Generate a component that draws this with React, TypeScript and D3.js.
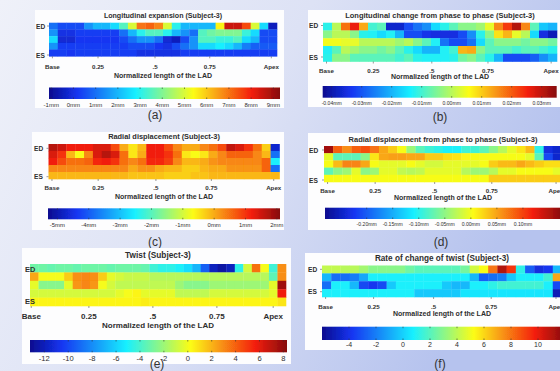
import * as d3 from "d3";
import { useEffect, useRef } from "react";

// x axis of every map: normalized length of the LAD
const lengthLabels = ["Base", "0.25", ".5", "0.75", "Apex"];
const lengthTicks = [0.015, 0.215, 0.465, 0.705, 0.975];
const twistLengthTicks = [0.005, 0.23, 0.48, 0.73, 0.95];
const phaseLabels = ["ED", "ES"];

// (a) Longitudinal expansion, mm (rows ED -> ES)
const expansionMm = [
  [1, 0.5, 0.5, 0.5, 1.5, 2, 2, 2.5, 3.5, 5, 7, 7.2, 6.8, 5, 3, 2, 2, 2, 2, 5.5, 8.5, 8.5, 7.5, 5, 2.5, -0.5],
  [1.5, 0, 0, 0.3, 0.3, 0.3, 0.3, 0.3, 1, 2, 3, 3.5, 3.5, 3, 2, 1.5, 1, 3.5, 3.8, 4, 4, 4, 3.2, 2.5, 0.5, 0.5],
  [2.5, -0.2, -0.2, 0.2, 0.2, 0.2, 0.2, 0.2, 0.5, 1, 1.5, 1.5, 1, -0.2, -0.5, 0.5, 1.5, 3.5, 3.5, 3.2, 3.2, 3.5, 2.5, 2, 0.5, 0.5],
  [1.5, 0.3, 0.3, 0.3, 0.3, 0.3, 0.3, 0.3, 0.3, 0.5, 0.5, 0.5, 0.2, 0, 0.5, 1, 1.5, 2.5, 2.5, 2.8, 2.5, 2, 1.2, 0.8, 0.7, 0.7],
  [0.3, 0.3, 0.2, 0.3, 0.3, 0.3, 0.3, 0.3, 0.3, 0.3, 0, 0, 0, 0, 0, 0.3, 0.3, 0.3, 0.3, 0.3, 0.3, 0.3, 0.3, 0.3, 0.3, 0.3],
];
const expansionTicks = [-1, 0, 1, 2, 3, 4, 5, 6, 7, 8, 9];

// (b) Longitudinal change from phase to phase, mm
const longChangeMm = [
  [-0.012, 0.0, 0.018, 0.026, 0.013, -0.01, -0.008, -0.037, -0.037, -0.031, -0.027, -0.024, -0.016, -0.012, -0.008, -0.004, -0.004, -0.002, 0.004, 0.016, 0.023, 0.031, 0.016, -0.008, -0.018, -0.02],
  [-0.004, 0.0, 0.0, -0.004, -0.012, -0.013, -0.016, -0.013, -0.02, -0.031, -0.031, -0.034, -0.035, -0.035, -0.035, -0.031, -0.024, -0.012, -0.004, 0.008, 0.012, 0.004, 0.0, -0.016, -0.035, -0.039],
  [0.005, 0.005, 0.004, 0.004, 0.0, 0.0, 0.0, 0.0, -0.002, 0.0, -0.004, -0.008, -0.013, -0.027, -0.031, -0.031, -0.027, -0.016, -0.008, -0.004, -0.004, -0.004, -0.006, -0.004, -0.004, -0.006],
  [-0.013, -0.008, 0.0, -0.002, -0.004, -0.004, -0.006, -0.004, -0.008, -0.012, -0.016, -0.02, -0.02, -0.013, -0.01, 0.012, 0.013, -0.004, -0.008, -0.008, -0.008, -0.01, -0.008, -0.008, -0.01, -0.012],
  [-0.012, -0.004, -0.004, -0.008, -0.008, -0.008, -0.008, -0.008, -0.01, -0.008, -0.012, -0.013, -0.013, -0.013, -0.012, -0.006, -0.004, -0.008, -0.012, -0.02, -0.031, -0.031, -0.031, -0.029, -0.024, -0.02],
];
const longChangeTicks = [-0.04, -0.03, -0.02, -0.01, 0, 0.01, 0.02, 0.03];

// (c) Radial displacement, mm
const radialMm = [
  [1.7, 1.5, 1.2, 1.2, 1.2, 1.4, 1.4, 0.8, 0.0, -0.5, -0.1, 1.2, 1.2, 0.8, 0.3, 0.0, 0.0, 0.3, 0.5, 0.8, 1.6, 1.4, 1.0, 0.5, -0.3, -4.7],
  [1.4, 1.0, -0.1, -0.7, 0.3, 1.4, 1.7, 1.4, 0.5, -0.5, 0.0, 1.2, 1.2, 1.0, 0.5, -0.5, -0.7, -0.5, 0.0, 0.3, 0.6, 0.6, 0.6, 0.3, -0.1, -3.8],
  [1.2, 0.8, 0.5, 0.5, 0.6, 1.1, 1.2, 1.0, 0.5, 0.3, 0.5, 1.1, 1.1, 0.9, 0.3, -0.1, -0.1, 0.0, 0.2, 0.3, 0.3, 0.3, 0.3, 0.3, 0.6, -2.5],
  [0.3, 0.3, 0.3, 0.3, 0.3, 0.3, 0.3, 0.3, 0.3, 0.0, 0.2, 0.2, 0.0, -0.1, -0.1, -0.3, -0.3, -0.1, 0.0, 0.0, 0.2, 0.2, 0.2, 0.2, 0.6, -3.8],
  [-0.1, -0.1, -0.1, -0.1, -0.1, -0.1, -0.1, -0.1, -0.1, -0.2, -0.2, -0.2, -0.2, -0.3, -0.3, -0.3, -0.2, -0.2, -0.1, -0.1, -0.1, -0.1, -0.1, -0.1, -0.1, -0.1],
];
const radialTicks = [-5, -4, -3, -2, -1, 0, 1, 2];

// (d) Radial displacement from phase to phase, mm
const radialChangeMm = [
  [0.161, 0.084, 0.061, 0.084, 0.093, 0.075, 0.048, 0.029, 0.002, -0.043, -0.075, -0.089, -0.098, -0.107, -0.107, -0.089, -0.089, -0.075, -0.052, -0.03, -0.007, 0.016, 0.038, -0.098, -0.234, -0.244],
  [-0.007, -0.075, -0.075, -0.075, -0.052, 0.016, 0.048, 0.052, 0.052, 0.048, 0.048, 0.029, 0.029, 0.02, 0.016, 0.007, 0.002, 0.002, 0.002, 0.002, 0.002, 0.002, -0.007, -0.075, -0.212, -0.244],
  [0.002, 0.038, 0.066, 0.066, 0.048, 0.002, -0.007, -0.007, -0.007, 0.002, -0.007, -0.016, -0.016, -0.007, -0.007, -0.007, -0.007, 0.002, 0.029, 0.038, 0.038, 0.048, 0.038, 0.029, 0.02, 0.02],
  [-0.075, -0.052, -0.043, -0.007, -0.052, -0.043, -0.007, -0.007, -0.025, -0.03, -0.025, -0.007, -0.007, -0.007, -0.007, -0.03, -0.043, -0.043, -0.03, -0.007, -0.007, 0.002, 0.002, 0.002, 0.002, -0.007],
  [0.002, 0.002, 0.002, 0.002, 0.002, 0.002, 0.002, 0.002, 0.002, 0.002, 0.002, 0.002, 0.002, 0.002, 0.002, 0.002, 0.002, 0.002, 0.029, 0.029, 0.029, 0.029, 0.029, 0.029, 0.029, 0.029],
];
const radialChangeTicks = [-0.2, -0.15, -0.1, -0.05, 0, 0.05, 0.1];

// (e) Twist
const twist = [
  [-3.1, -3.1, -3.3, -3.1, -3.1, -3.3, -3.1, -3.1, -3.1, -3.3, -3.1, -3.1, -3.1, -3.3, -4.2, -4.6, -4.6, -5.0, -5.7, -6.8, -9.3, -11.9, -12.6, -11.9, -4.6, -0.7, 3.6, 0.1, -4.2, 2.9],
  [2.3, 0.1, 0.1, 0.1, 1.4, 2.9, 3.1, 2.9, 1.4, -0.3, -0.7, -1.0, -1.0, -1.0, -1.4, -1.4, -1.4, -1.4, -1.4, -1.4, -1.4, -1.4, -1.4, -1.4, -1.4, -1.4, -1.4, -1.4, -3.5, 2.9],
  [-0.3, -2.5, -2.5, -2.5, -0.3, 2.7, 3.1, 2.7, 0.1, -0.7, -1.2, -1.2, -1.2, -1.2, -1.2, -1.2, -1.2, -2.0, -2.5, -2.5, -2.5, -2.0, -2.0, -2.0, -2.0, -2.0, -2.0, -2.0, -0.3, 7.7],
  [-0.7, -0.7, -0.7, -0.7, -0.7, -0.7, -0.7, -0.7, -0.7, -0.7, -0.3, 0.1, 0.4, -0.3, -0.3, -0.3, -0.3, -1.2, -1.2, -1.2, -1.2, -0.7, -0.7, -0.7, -0.7, -0.7, -0.7, -0.7, -0.3, 5.7],
  [0.4, 0.4, 0.4, 0.4, 0.4, 0.4, 0.4, 0.4, 0.4, 0.4, 0.4, 0.4, 0.4, 0.6, 0.4, 0.4, 0.4, 0.4, 0.4, 0.4, 0.4, 0.4, 0.4, 0.4, 0.4, 0.4, 0.4, 0.4, 0.4, 0.8],
];
const twistTicks = [-12, -10, -8, -6, -4, -2, 0, 2, 4, 6, 8];

// (f) Rate of change of twist
const twistRate = [
  [4.1, 4.1, 3.9, 3.9, 3.5, 3.0, 3.0, 3.0, 3.0, 2.5, 2.1, 2.1, 2.1, 2.1, 2.1, 2.6, 4.4, 5.2, 8.0, 11.1, 9.3, 1.2, -2.8, -4.2, -3.8, -0.6],
  [-0.6, -2.4, -2.4, -2.0, -1.0, 0.8, 0.8, 0.8, 0.8, 0.8, 0.8, 0.8, 0.8, 0.8, 0.8, 0.8, -0.6, -2.8, -2.4, -2.0, -0.2, 0.8, 0.8, 0.8, 1.6, 7.0],
  [-2.4, 0.8, 0.8, -0.6, -3.3, -3.8, -3.3, -0.2, 0.8, 0.8, 0.8, 0.8, 0.8, -0.2, -0.6, -0.6, 0.8, 0.8, 1.2, 1.6, 1.6, 1.6, 1.6, 1.6, 0.8, -3.3],
  [0.8, 0.8, 0.8, 0.8, 0.8, 0.8, 0.8, 0.8, 0.8, 0.8, -0.2, -0.2, -0.2, -0.2, -0.2, 0.5, 0.5, 0.5, 0.5, 0.5, 0.5, 0.5, 0.5, 0.5, 0.5, -5.1],
];
const twistRateTicks = [-4, -2, 0, 2, 4, 6, 8, 10];

// jet colormap, slightly softened like the scanned figure
const jet = d3
  .scaleLinear<string>()
  .domain([0, 0.125, 0.375, 0.625, 0.875, 1])
  .range(["#0c0c8e", "#1436f2", "#18f0ff", "#fcfc14", "#f41e10", "#860c0c"])
  .clamp(true);

const mm = (v: number) => `${v}mm`;
const mm2 = (v: number) => `${v.toFixed(2)}mm`;
const plain = (v: number) => `${v}`;

const panels = [
  {
    key: "a", title: "Longitudinal expansion (Subject-3)", rows: expansionMm, domain: [-1.1, 9.3], ticks: expansionTicks, fmt: mm,
    box: [35, 10, 284, 108], heat: [49, 22.7, 277, 56.3], bar: [49, 87.5, 280, 99], lenTicks: lengthTicks,
    titleY: 15.5, labelX: 36, edY: 26, esY: 55, axisY: 66.7, xTitleY: 75, barLabelY: 105, letter: [155, 115],
    titleFs: 7.1, tickFs: 6.2, xTitleFs: 7, barFs: 6, phaseFs: 6.6,
  },
  {
    key: "b", title: "Longitudinal change from phase to phase (Subject-3)", rows: longChangeMm, domain: [-0.043, 0.035], ticks: longChangeTicks, fmt: mm2,
    box: [308, 10, 562, 107], heat: [323, 22.7, 557, 61.5], bar: [322.7, 86, 556.7, 97.7], lenTicks: lengthTicks,
    titleY: 15.5, labelX: 309, edY: 25.5, esY: 57, axisY: 70.7, xTitleY: 76.7, barLabelY: 103.3, letter: [440, 116.7],
    titleFs: 7.5, tickFs: 6.2, xTitleFs: 7, barFs: 5.1, phaseFs: 6.6,
  },
  {
    key: "c", title: "Radial displacement (Subject-3)", rows: radialMm, domain: [-5.3, 2.1], ticks: radialTicks, fmt: mm,
    box: [32, 132, 284, 230], heat: [48.5, 144, 279.5, 179], bar: [48, 208.3, 280, 219.3], lenTicks: lengthTicks,
    titleY: 136.7, labelX: 34, edY: 148.3, esY: 176.7, axisY: 187.7, xTitleY: 196, barLabelY: 225, letter: [155, 241.7],
    titleFs: 7.4, tickFs: 6.2, xTitleFs: 7, barFs: 5.9, phaseFs: 6.6,
  },
  {
    key: "d", title: "Radial displacement from phase to phase (Subject-3)", rows: radialChangeMm, domain: [-0.28, 0.175], ticks: radialChangeTicks, fmt: mm2,
    box: [308, 133, 562, 230], heat: [324, 146, 562, 182], bar: [325, 207.7, 562, 219], lenTicks: lengthTicks,
    titleY: 139.3, labelX: 309, edY: 150, esY: 180, axisY: 190, xTitleY: 197.7, barLabelY: 224, letter: [441, 242],
    titleFs: 7.5, tickFs: 6.2, xTitleFs: 7, barFs: 5.1, phaseFs: 6.6,
  },
  {
    key: "e", title: "Twist (Subject-3)", rows: twist, domain: [-13.2, 8.3], ticks: twistTicks, fmt: plain,
    box: [22, 248, 291, 364], heat: [30, 264, 286, 306], bar: [30, 340, 287, 352.3], lenTicks: twistLengthTicks,
    titleY: 255, labelX: 25, edY: 269.3, esY: 301.7, axisY: 316, xTitleY: 325, barLabelY: 358.5, letter: [157, 363.7],
    titleFs: 8.3, tickFs: 8, xTitleFs: 8, barFs: 7.6, phaseFs: 7.4,
  },
  {
    key: "f", title: "Rate of change of twist (Subject-3)", rows: twistRate, domain: [-6, 12], ticks: twistRateTicks, fmt: plain,
    box: [305, 253, 562, 350], heat: [322, 265.5, 562, 297], bar: [322, 326.7, 565, 340], lenTicks: lengthTicks,
    titleY: 258.3, labelX: 308, edY: 269.3, esY: 291.7, axisY: 306, xTitleY: 313.3, barLabelY: 344, letter: [440, 363.7],
    titleFs: 8.2, tickFs: 6.2, xTitleFs: 7, barFs: 7, phaseFs: 6.6,
  },
];

const FONT = "'Liberation Sans', Arial, Helvetica, sans-serif";
const INK = "#2e2e2e";

export default function App() {
  const ref = useRef<SVGSVGElement>(null);

  useEffect(() => {
    const svg = d3.select(ref.current);
    svg.selectAll("*").remove();
    const defs = svg.append("defs");

    const bg = defs.append("linearGradient").attr("id", "bg").attr("x1", 0).attr("y1", 0).attr("x2", 1).attr("y2", 0.35);
    bg.append("stop").attr("offset", 0).attr("stop-color", "#eff1f9");
    bg.append("stop").attr("offset", 0.5).attr("stop-color", "#dde2f5");
    bg.append("stop").attr("offset", 1).attr("stop-color", "#b6c3ee");

    defs.append("filter").attr("id", "soft").attr("x", -0.05).attr("y", -0.1).attr("width", 1.1).attr("height", 1.2)
      .append("feGaussianBlur").attr("stdDeviation", 0.55);

    const cbar = defs.append("linearGradient").attr("id", "jetbar");
    jet.domain().forEach((o) => cbar.append("stop").attr("offset", o).attr("stop-color", jet(o)));

    svg.append("rect").attr("width", 560).attr("height", 371).attr("fill", "url(#bg)");

    panels.forEach((p) => {
      const g = svg.append("g").attr("font-family", FONT).attr("fill", INK);
      const [bx0, by0, bx1, by1] = p.box;
      g.append("rect").attr("x", bx0).attr("y", by0).attr("width", bx1 - bx0).attr("height", by1 - by0).attr("fill", "#fdfdfe");

      const [hx0, hy0, hx1, hy1] = p.heat;
      const nCols = p.rows[0].length;
      const x = d3.scaleBand<number>().domain(d3.range(nCols)).range([hx0, hx1]);
      const y = d3.scaleBand<number>().domain(d3.range(p.rows.length)).range([hy0, hy1]);
      const norm = d3.scaleLinear().domain(p.domain).range([0, 1]).clamp(true);

      const cells = p.rows.flatMap((row, r) => row.map((v, c) => ({ r, c, v })));
      g.append("g").attr("filter", "url(#soft)")
        .selectAll("rect").data(cells).join("rect")
        .attr("x", (d) => x(d.c)!)
        .attr("y", (d) => y(d.r)!)
        .attr("width", x.bandwidth() + 0.3)
        .attr("height", y.bandwidth() + 0.3)
        .attr("fill", (d) => jet(norm(d.v)));

      // length axis
      const len = d3.scaleLinear().domain([0, 1]).range([hx0, hx1]);
      g.selectAll(".lt").data(p.lenTicks).join("line")
        .attr("x1", (d) => len(d)).attr("x2", (d) => len(d))
        .attr("y1", hy1).attr("y2", hy1 + 2)
        .attr("stroke", "#555").attr("stroke-width", 0.6);
      g.selectAll(".ll").data(p.lenTicks).join("text")
        .attr("x", (d) => len(d)).attr("y", p.axisY)
        .attr("text-anchor", "middle").attr("dominant-baseline", "central")
        .attr("font-size", p.tickFs).attr("font-weight", "bold")
        .text((_, i) => lengthLabels[i]);
      g.append("text").attr("x", (hx0 + hx1) / 2).attr("y", p.xTitleY)
        .attr("text-anchor", "middle").attr("dominant-baseline", "central")
        .attr("font-size", p.xTitleFs).attr("font-weight", "bold")
        .text("Normalized length of the LAD");

      // phase axis
      [p.edY, p.esY].forEach((py, i) => {
        g.append("line").attr("x1", hx0 - 2).attr("x2", hx0).attr("y1", py).attr("y2", py)
          .attr("stroke", "#555").attr("stroke-width", 0.6);
        g.append("text").attr("x", p.labelX).attr("y", py)
          .attr("dominant-baseline", "central")
          .attr("font-size", p.phaseFs).attr("font-weight", "bold")
          .text(phaseLabels[i]);
      });

      g.append("text").attr("x", (hx0 + hx1) / 2).attr("y", p.titleY)
        .attr("text-anchor", "middle").attr("dominant-baseline", "central")
        .attr("font-size", p.titleFs).attr("font-weight", "bold")
        .text(p.title);

      // colour bar
      const [cx0, cy0, cx1, cy1] = p.bar;
      g.append("rect").attr("x", cx0).attr("y", cy0).attr("width", cx1 - cx0).attr("height", cy1 - cy0)
        .attr("fill", "url(#jetbar)").attr("filter", "url(#soft)");
      const cb = d3.scaleLinear().domain(p.domain).range([cx0, cx1]);
      p.ticks.forEach((t) => {
        g.append("line").attr("x1", cb(t)).attr("x2", cb(t)).attr("y1", cy0).attr("y2", cy0 + 1.5)
          .attr("stroke", "#333").attr("stroke-width", 0.6);
        g.append("line").attr("x1", cb(t)).attr("x2", cb(t)).attr("y1", cy1 - 1.5).attr("y2", cy1)
          .attr("stroke", "#333").attr("stroke-width", 0.6);
        g.append("text").attr("x", cb(t)).attr("y", p.barLabelY)
          .attr("text-anchor", "middle").attr("dominant-baseline", "central")
          .attr("font-size", p.barFs)
          .text(p.fmt(t));
      });

      g.append("text").attr("x", p.letter[0]).attr("y", p.letter[1])
        .attr("text-anchor", "middle").attr("dominant-baseline", "central")
        .attr("font-size", 12).attr("fill", "#333")
        .text(`(${p.key})`);
    });
  }, []);

  return (
    <svg ref={ref} width={560} height={371} style={{ position: "absolute", left: 0, top: 0, display: "block" }} />
  );
}
